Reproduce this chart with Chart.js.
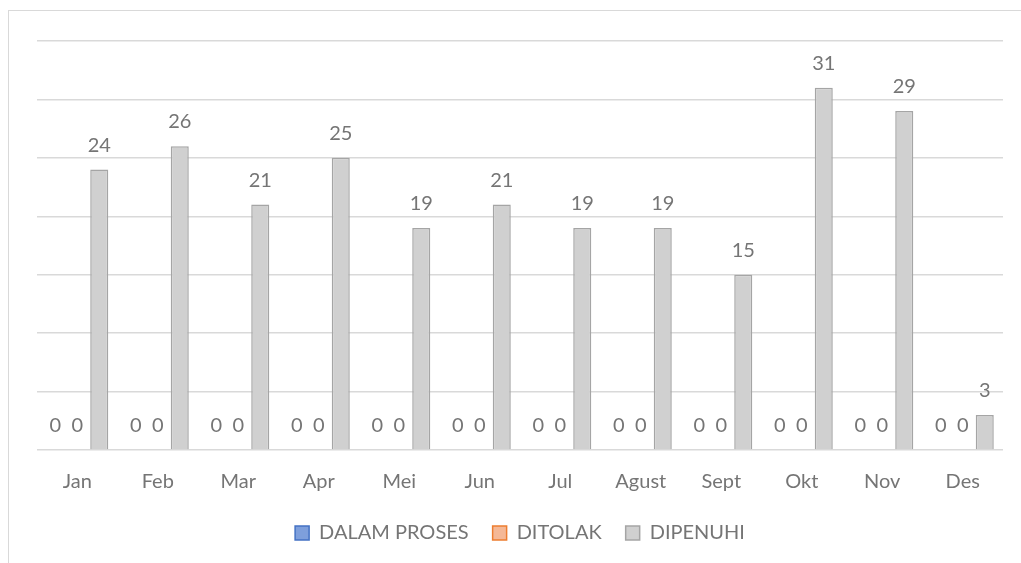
<!DOCTYPE html>
<html>
<head>
<meta charset="utf-8">
<script src="https://cdn.jsdelivr.net/npm/chart.js@4/dist/chart.umd.min.js"></script>
<style>
  html, body { margin: 0; padding: 0; background: #fff; }
  .frame {
    position: absolute;
    left: 8px;
    top: 10px;
    width: 1100px;
    height: 700px;
    border-left: 1.5px solid #d9d9d9;
    border-top: 1.5px solid #d9d9d9;
  }
  .chart-box {
    position: absolute;
    left: 0;
    top: 0;
    width: 1021px;
    height: 563px;
  }
</style>
</head>
<body>
<div class="frame"></div>
<div class="chart-box"><canvas id="chart"></canvas></div>
<script>
// Monthly request status counts
const months = ['Jan', 'Feb', 'Mar', 'Apr', 'Mei', 'Jun', 'Jul', 'Agust', 'Sept', 'Okt', 'Nov', 'Des'];
const dalamProses = [0, 0, 0, 0, 0, 0, 0, 0, 0, 0, 0, 0];
const ditolak = [0, 0, 0, 0, 0, 0, 0, 0, 0, 0, 0, 0];
const dipenuhi = [24, 26, 21, 25, 19, 21, 19, 19, 15, 31, 29, 3];

const textColor = '#757575';
const fontFamily = 'Lato, "Noto Sans", sans-serif';

// Draws the value above every bar (like Excel data labels)
const valueLabels = {
  id: 'valueLabels',
  afterDatasetsDraw(chart) {
    const ctx = chart.ctx;
    ctx.save();
    ctx.font = `20px ${fontFamily}`;
    ctx.fillStyle = textColor;
    ctx.textAlign = 'center';
    ctx.textBaseline = 'alphabetic';
    chart.data.datasets.forEach((ds, i) => {
      const meta = chart.getDatasetMeta(i);
      meta.data.forEach((bar, j) => {
        ctx.fillText(String(ds.data[j]), bar.x, bar.y - 18);
      });
    });
    ctx.restore();
  }
};

const barOpts = {
  borderWidth: 1.5,
  categoryPercentage: 0.82,
  barPercentage: 0.82
};

new Chart(document.getElementById('chart'), {
  type: 'bar',
  data: {
    labels: months,
    datasets: [
      { label: 'DALAM PROSES', data: dalamProses, backgroundColor: '#7e9fdc', borderColor: '#4472c4', ...barOpts },
      { label: 'DITOLAK', data: ditolak, backgroundColor: '#f5b896', borderColor: '#ed7d31', ...barOpts },
      { label: 'DIPENUHI', data: dipenuhi, backgroundColor: '#d0d0d0', borderColor: '#a5a5a5', ...barOpts }
    ]
  },
  options: {
    responsive: true,
    maintainAspectRatio: false,
    animation: false,
    layout: {
      padding: { left: 37, right: 18, top: 41, bottom: 10 }
    },
    plugins: {
      tooltip: { enabled: false },
      legend: {
        position: 'bottom',
        labels: {
          boxWidth: 14,
          boxHeight: 14,
          padding: 24,
          color: textColor,
          font: { family: fontFamily, size: 20 }
        }
      }
    },
    scales: {
      x: {
        grid: { display: false },
        border: { display: false },
        ticks: {
          color: textColor,
          padding: 12,
          font: { family: fontFamily, size: 20 }
        },
        afterFit: (scale) => { scale.height = 49; }
      },
      y: {
        min: 0,
        max: 35,
        ticks: { display: false, stepSize: 5 },
        border: { display: false },
        grid: { color: '#d9d9d9', lineWidth: 1.5, drawTicks: false },
        afterFit: (scale) => { scale.width = 0; }
      }
    }
  },
  plugins: [valueLabels]
});
</script>
</body>
</html>
